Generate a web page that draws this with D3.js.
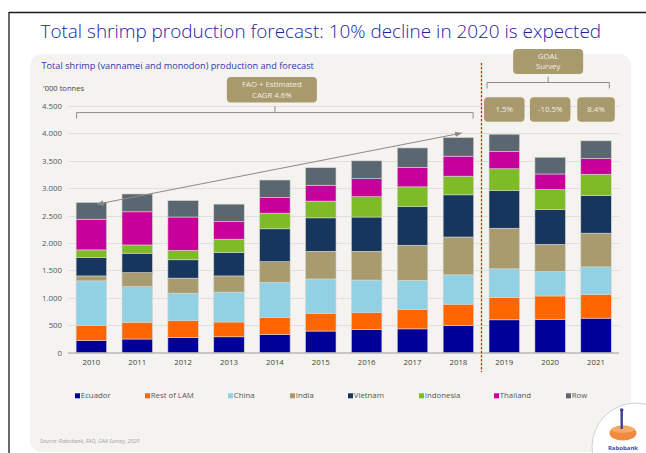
<!DOCTYPE html>
<html>
<head>
<meta charset="utf-8">
<script src="https://cdn.jsdelivr.net/npm/d3@7/dist/d3.min.js"></script>
<style>
  html, body { margin: 0; padding: 0; background: #ffffff; }
  svg { display: block; }
  text { font-family: "Open Sans", "Noto Sans", sans-serif; }
</style>
</head>
<body>
<svg id="chart" width="646" height="453"></svg>
<script>
// Years on the x axis
const years = ["2010","2011","2012","2013","2014","2015","2016","2017","2018","2019","2020","2021"];

// Production by origin, '000 tonnes (stack order bottom to top)
const ecuador   = [220, 250, 275, 290, 335, 395, 420, 435, 500, 600, 610, 630];
const restOfLam = [280, 305, 310, 270, 305, 325, 310, 355, 385, 405, 425, 430];
const china     = [810, 650, 500, 545, 645, 625, 595, 530, 535, 525, 445, 505];
const india     = [ 90, 255, 275, 295, 375, 505, 525, 640, 690, 740, 495, 615];
const vietnam   = [335, 355, 335, 425, 600, 610, 625, 705, 770, 690, 635, 685];
const indonesia = [140, 150, 170, 245, 285, 305, 370, 360, 340, 395, 365, 390];
const thailand  = [560, 605, 610, 320, 285, 290, 330, 355, 365, 315, 285, 290];
const row       = [305, 325, 300, 320, 320, 320, 325, 355, 340, 315, 305, 320];

const seriesNames  = ["Ecuador","Rest of LAM","China","India","Vietnam","Indonesia","Thailand","Row"];
const seriesValues = [ecuador, restOfLam, china, india, vietnam, indonesia, thailand, row];
const seriesColors = ["#000099","#ff6600","#92d1e3","#a89c6f","#17365d","#7fba27","#c8009b","#5b6770"];

// Axis ticks
const yTicks = [0, 500, 1000, 1500, 2000, 2500, 3000, 3500, 4000, 4500];

// Annotation texts
const cagrLines  = ["FAO + Estimated", "CAGR 4.6%"];
const goalLines  = ["GOAL", "Survey"];
const forecastYears = ["2019", "2020", "2021"];
const growthLabels  = ["1.5%", "-10.5%", "8.4%"];

// Legend item x offsets
const legendX = [75, 145, 228, 290, 348, 419, 494, 566];

const svg = d3.select("#chart");
const boxFill = "#a89a6c";
const boxText = "#f3f0e6";

// slide frame lines
svg.append("line").attr("x1", 9).attr("x2", 646).attr("y1", 12.5).attr("y2", 12.5)
  .attr("stroke", "#1a1a1a").attr("stroke-width", 1.3);
svg.append("line").attr("x1", 9).attr("x2", 9).attr("y1", 12).attr("y2", 453)
  .attr("stroke", "#1a1a1a").attr("stroke-width", 1.3);

// title
const title = svg.append("text")
  .attr("x", 40.5).attr("y", 37.5)
  .attr("fill", "#2222a4")
  .attr("font-size", 19).attr("font-weight", 300)
  .text("Total shrimp production forecast: 10% decline in 2020 is expected");
const tw = title.node().getComputedTextLength();
title.attr("font-size", 19 * 561 / tw);

// chart panel
svg.append("rect")
  .attr("x", 30).attr("y", 54).attr("width", 601).attr("height", 398).attr("rx", 12)
  .attr("fill", "#f5f3ef");

svg.append("text").attr("x", 41.5).attr("y", 68.5)
  .attr("fill", "#3434b0").attr("font-size", 9.2)
  .text("Total shrimp (vannamei and monodon) production and forecast");

svg.append("text").attr("x", 43).attr("y", 90.5)
  .attr("fill", "#444").attr("font-size", 7.6)
  .text("'000 tonnes");

// scales
const x = d3.scaleBand().domain(years).range([68.4, 619]).paddingInner(0.335).paddingOuter(0.168);
const y = d3.scaleLinear().domain([0, 4500]).range([352.7, 106]);

const fmt = d3.formatLocale({ decimal: ",", thousands: ".", grouping: [3], currency: ["", ""] }).format(",");

// gridlines
svg.append("g").selectAll("line").data(yTicks.filter(d => d > 0)).join("line")
  .attr("x1", 68).attr("x2", 619)
  .attr("y1", d => Math.round(y(d)) + 0.5).attr("y2", d => Math.round(y(d)) + 0.5)
  .attr("stroke", "#e1dfdb").attr("stroke-width", 1);

// y axis labels
const yAxis = svg.append("g").attr("transform", "translate(62,0)")
  .call(d3.axisLeft(y).tickValues(yTicks).tickFormat(fmt).tickSize(0).tickPadding(0));
yAxis.select(".domain").remove();
yAxis.selectAll("text").attr("fill", "#555").attr("font-size", 7.8)
  .attr("font-family", "\"Open Sans\", sans-serif");

// stacked bars
const table = years.map((yr, i) => {
  const o = { year: yr };
  seriesNames.forEach((n, k) => { o[n] = seriesValues[k][i]; });
  return o;
});
const stacked = d3.stack().keys(seriesNames)(table);

svg.append("g").selectAll("g").data(stacked).join("g")
  .attr("fill", (d, i) => seriesColors[i])
  .selectAll("rect").data(d => d).join("rect")
  .attr("x", d => x(d.data.year))
  .attr("width", x.bandwidth())
  .attr("y", d => y(d[1]))
  .attr("height", d => y(d[0]) - y(d[1]))
  .attr("stroke", "#d8d6d2").attr("stroke-width", 0.6);

// baseline
svg.append("line").attr("x1", 68).attr("x2", 619).attr("y1", y(0) + 0.3).attr("y2", y(0) + 0.3)
  .attr("stroke", "#9a9a9a").attr("stroke-width", 1);

// x axis labels
const xAxis = svg.append("g").attr("transform", `translate(0,${y(0) + 6})`)
  .call(d3.axisBottom(x).tickSize(0).tickPadding(0));
xAxis.select(".domain").remove();
xAxis.selectAll("text").attr("fill", "#444").attr("font-size", 7.8).attr("dy", "0.75em")
  .attr("font-family", "\"Open Sans\", sans-serif");

// forecast divider
svg.append("line").attr("x1", 481.5).attr("x2", 481.5).attr("y1", 63).attr("y2", 372)
  .attr("stroke", "#f01818").attr("stroke-width", 1.3).attr("stroke-dasharray", "2.5,1.5");

// growth arrow 2010 -> 2018
const totals = table.map(d => seriesNames.reduce((s, n) => s + d[n], 0));
svg.append("defs").append("marker")
  .attr("id", "arr").attr("viewBox", "0 0 10 10").attr("refX", 9).attr("refY", 5)
  .attr("markerWidth", 7).attr("markerHeight", 7).attr("orient", "auto-start-reverse")
  .append("path").attr("d", "M0,1 L10,5 L0,9 z").attr("fill", "#8a8a8a");
const ax1 = x("2010") + x.bandwidth() / 2 + 6, ay1 = y(totals[0] - 30);
const ax2 = x("2018") + x.bandwidth() / 2 + 3, ay2 = y(totals[8] + 80);
svg.append("line").attr("x1", ax1).attr("y1", ay1).attr("x2", ax2).attr("y2", ay2)
  .attr("stroke", "#8a8a8a").attr("stroke-width", 1)
  .attr("marker-start", "url(#arr)").attr("marker-end", "url(#arr)");

// bracket helper
function bracket(x1, x2, yb, tickDown, tickUpTo) {
  const mid = (x1 + x2) / 2;
  svg.append("path")
    .attr("d", `M${x1},${yb + tickDown} V${yb} H${x2} V${yb + tickDown} M${mid},${yb} V${tickUpTo}`)
    .attr("fill", "none").attr("stroke", "#8c8c8c").attr("stroke-width", 1);
  return mid;
}
function box(cx, w, y0, h, lines, fs) {
  svg.append("rect").attr("x", cx - w / 2).attr("y", y0).attr("width", w).attr("height", h)
    .attr("rx", 4).attr("fill", boxFill);
  const n = lines.length;
  lines.forEach((t, i) => {
    svg.append("text").attr("x", cx).attr("y", y0 + h / 2 + (i - (n - 1) / 2) * 10.5)
      .attr("dy", "0.35em").attr("text-anchor", "middle")
      .attr("fill", boxText).attr("font-size", fs).text(t);
  });
}

// historic bracket + CAGR box
const hb1 = x("2010"), hb2 = x("2018") + x.bandwidth();
const hMid = bracket(hb1 + 0.5, hb2 - 0.5, y(4380), 6, y(4380) - 6.5);
box(hMid - 3, 90, 77, 25.5, cagrLines, 7.8);

// forecast bracket + GOAL box
const fb1 = x("2019") - 2, fb2 = x("2021") + x.bandwidth() - 2;
const fMid = bracket(fb1, fb2, 82.5, 6, 76.5);
box(fMid, 70, 49, 25, goalLines, 7.8);

// growth boxes
forecastYears.forEach((yr, i) => {
  box(x(yr) + x.bandwidth() / 2, i === 2 ? 37.5 : 40.5, 97.3, 24.4, [growthLabels[i]], 7.8);
});

// legend
const lg = svg.append("g");
seriesNames.forEach((n, i) => {
  lg.append("rect").attr("x", legendX[i]).attr("y", 393.3).attr("width", 5).attr("height", 5)
    .attr("fill", seriesColors[i]);
  lg.append("text").attr("x", legendX[i] + 5.8).attr("y", 398)
    .attr("fill", "#555").attr("font-size", 7.8).text(n);
});

// source note
svg.append("text").attr("x", 40).attr("y", 442.5)
  .attr("fill", "#a0a0a0").attr("font-size", 5.4).attr("font-style", "italic")
  .text("Source: Rabobank, FAO, GAA Survey,  2020");

// logo badge
const logo = svg.append("g");
logo.append("circle").attr("cx", 636).attr("cy", 447).attr("r", 44)
  .attr("fill", "#ffffff").attr("stroke", "#d0d0d0").attr("stroke-width", 1);
logo.append("ellipse").attr("cx", 623).attr("cy", 433).attr("rx", 13.5).attr("ry", 7.5)
  .attr("fill", "#f08a3c");
logo.append("ellipse").attr("cx", 623).attr("cy", 429.5).attr("rx", 12).attr("ry", 3.2)
  .attr("fill", "#f7a965");
logo.append("line").attr("x1", 621.7).attr("x2", 621.7).attr("y1", 410).attr("y2", 429)
  .attr("stroke", "#3b3f96").attr("stroke-width", 2.4);
logo.append("circle").attr("cx", 621.7).attr("cy", 410).attr("r", 1.8).attr("fill", "#3b3f96");
logo.append("text").attr("x", 623).attr("y", 449.5).attr("text-anchor", "middle")
  .attr("fill", "#3b4aa8").attr("font-size", 6).attr("font-weight", 700).text("Rabobank");
</script>
</body>
</html>
